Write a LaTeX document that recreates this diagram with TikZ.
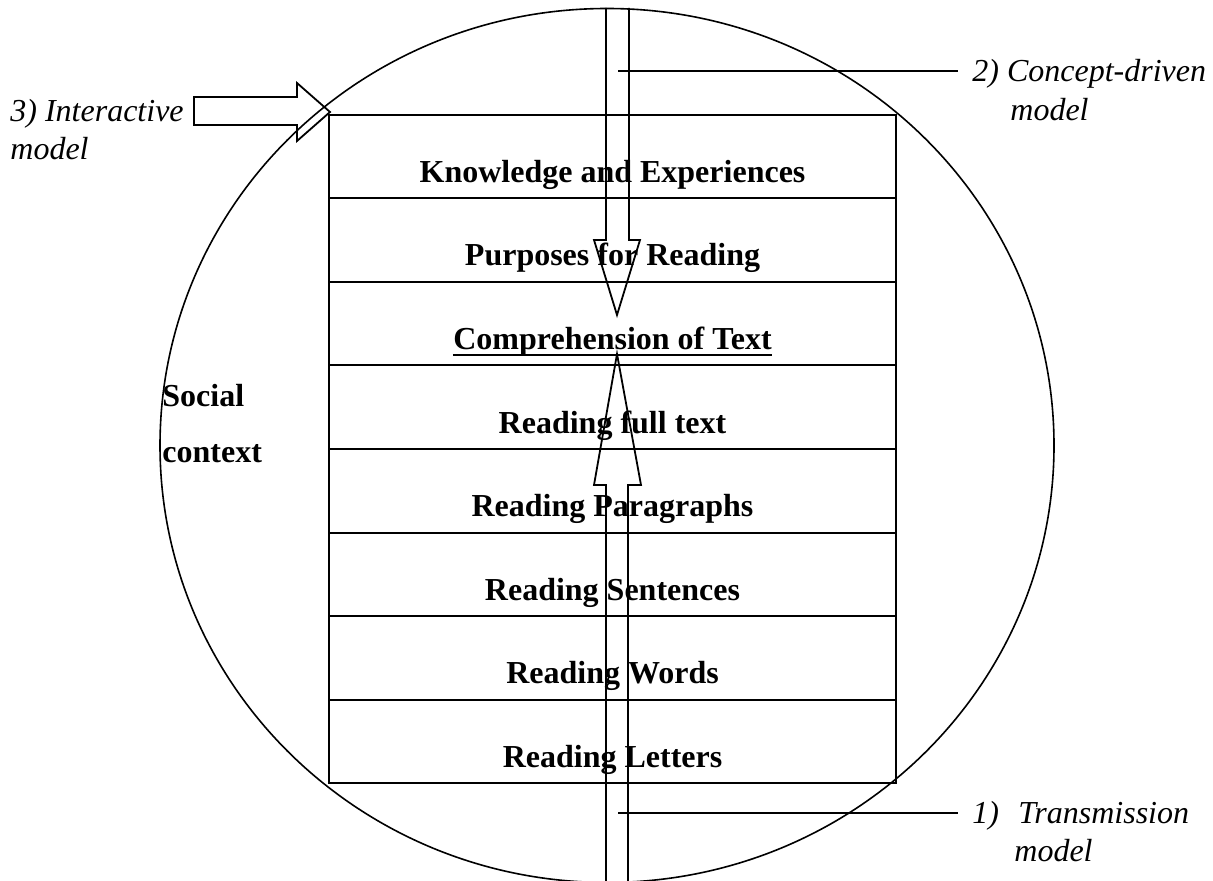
\documentclass[tikz,border=0pt]{standalone}
\usepackage{fontspec}
\setmainfont{Liberation Serif}
\begin{document}
\begin{tikzpicture}[x=0.5pt,y=-0.5pt,
  rowtext/.style={anchor=base,inner sep=0pt,font=\fontsize{16}{19}\selectfont\bfseries},
  modeltext/.style={anchor=base west,inner sep=0pt,font=\fontsize{16}{19}\selectfont\itshape},
  socialtext/.style={anchor=base west,inner sep=0pt,font=\fontsize{16}{19}\selectfont\bfseries},
  boxline/.style={line width=1pt},
  ringline/.style={line width=0.8pt},
  blockarrow/.style={line width=0.9pt,line join=miter},
  leader/.style={line width=0.9pt}]
\useasboundingbox (0,0) rectangle (1213,881);

% social context ring
\draw[ringline] (607,445.5) ellipse [x radius=223.5pt, y radius=218.5pt];

% stacked box
\draw[boxline] (329,115) rectangle (896,783);
\foreach \yy in {198.5,282,365.5,449,532.5,616,699.5}
  \draw[boxline] (329,\yy) -- (896,\yy);

% row texts
\node[rowtext] (r1) at (612.5,182.5) {Knowledge and Experiences};
\node[rowtext] (r2) at (612.5,266) {Purposes for Reading};
\node[rowtext] (r3) at (612.5,349.5) {Comprehension of Text};
\draw[line width=1.1pt] ([yshift=-2.6pt]r3.base west) -- ([yshift=-2.6pt]r3.base east);
\node[rowtext] (r4) at (612.5,433) {Reading full text};
\node[rowtext] (r5) at (612.5,516.5) {Reading Paragraphs};
\node[rowtext] (r6) at (612.5,600) {Reading Sentences};
\node[rowtext] (r7) at (612.5,683.5) {Reading Words};
\node[rowtext] (r8) at (612.5,767) {Reading Letters};

% social context label
\node[socialtext] (soc1) at (162,407) {Social};
\node[socialtext] (soc2) at (162,462) {context};

% model labels
\node[modeltext] (lab2a) at (972,82) {2) Concept-driven};
\node[modeltext] (lab2b) at (1010,121) {model};
\node[modeltext] (lab3a) at (10,122) {3) Interactive};
\node[modeltext] (lab3b) at (10,160) {model};
\node[modeltext] (lab1n) at (972,823) {1)};
\node[modeltext] (lab1a) at (1018,823) {Transmission};
\node[modeltext] (lab1b) at (1014,861) {model};

% concept-driven (top-down) arrow
\draw[blockarrow] (606,8) -- (606,240) -- (594,240) -- (617,315) -- (640,240)
  -- (629,240) -- (629,8);

% transmission (bottom-up) arrow
\draw[blockarrow] (606,885) -- (606,485) -- (594,485) -- (617,354) -- (641,485)
  -- (628,485) -- (628,885);

% interactive arrow
\draw[blockarrow] (194,97) -- (297,97) -- (297,83) -- (330,112) -- (297,141)
  -- (297,125) -- (194,125) -- cycle;

% leader lines
\coordinate (l2s) at (618,71);
\coordinate (l2e) at (958,71);
\draw[leader] (l2s) -- (l2e);
\coordinate (l1s) at (618,813);
\coordinate (l1e) at (958,813);
\draw[leader] (l1s) -- (l1e);
\end{tikzpicture}
\end{document}
